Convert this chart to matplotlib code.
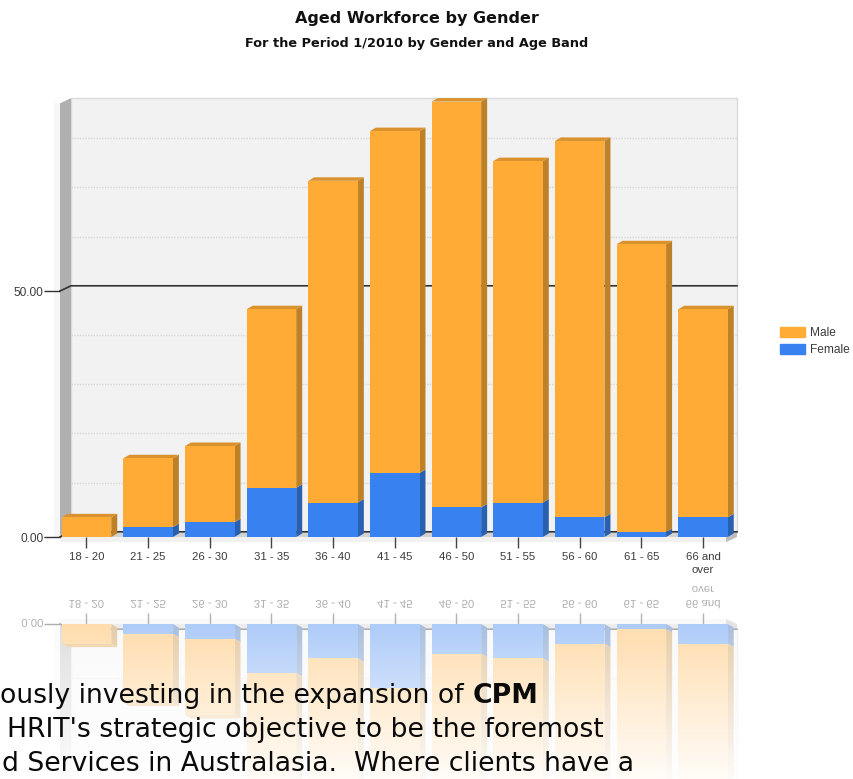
import numpy as np
import matplotlib
matplotlib.use("Agg")
import matplotlib.pyplot as plt
from matplotlib.patches import Polygon, Patch, PathPatch
from matplotlib.textpath import TextPath
from matplotlib.font_manager import FontProperties
from matplotlib.transforms import Affine2D

age_bands = ["18 - 20", "21 - 25", "26 - 30", "31 - 35", "36 - 40", "41 - 45",
             "46 - 50", "51 - 55", "56 - 60", "61 - 65", "66 and\nover"]
female = [0, 2, 3, 10, 7, 13, 6, 7, 4, 1, 4]
male = [4, 14, 15.5, 36.3, 65.4, 69.5, 82.5, 69.4, 76.5, 58.5, 42.3]
y_ticks = [0, 50]
y_tick_labels = ["0.00", "50.00"]
minor_levels = [10, 20, 30, 40, 60, 70, 80]

W, H = 854, 779
ORANGE, ORANGE_SIDE, ORANGE_TOP = "#FFAB36", "#BF8128", "#D9922E"
BLUE, BLUE_SIDE = "#3781F0", "#2A60B0"
TEXT = "#3c3c3c"

# pixel scale of the plot area
X0_PX, X_STEP = 86.5, 61.65
Y0_PX, Y_UNIT = 537.0, 4.92
LEFT_PX, RIGHT_PX, TOP_VAL = 60.0, 737.0, 89.2
WALL_DX, WALL_DY = 11 / X_STEP, 5.2 / Y_UNIT
BAR_DX, BAR_DY = 6 / X_STEP, 3.5 / Y_UNIT
BAR_W = 49.5 / X_STEP
xlim = ((LEFT_PX - X0_PX) / X_STEP, (RIGHT_PX - X0_PX) / X_STEP)

fig = plt.figure(figsize=(W / 100, H / 100), dpi=100, facecolor="white")


def px_rect(left, top, right, bottom):
    return [left / W, 1 - bottom / H, (right - left) / W, (bottom - top) / H]


def draw_scene(ax):
    x_a, x_b = xlim
    top = TOP_VAL
    # walls and floor
    ax.add_patch(Polygon([(x_a + WALL_DX, WALL_DY), (x_b, WALL_DY), (x_b, top), (x_a + WALL_DX, top)],
                         fc="#F2F2F2", ec="#DADADA", lw=1, zorder=1, clip_on=False))
    ax.add_patch(Polygon([(x_a, 0), (x_a + WALL_DX, WALL_DY), (x_a + WALL_DX, top), (x_a, top - WALL_DY)],
                         fc="#B0B0B0", ec="none", zorder=1.5, clip_on=False))
    ax.add_patch(Polygon([(x_a - 0.1, 0), (x_a, 0), (x_a, top - WALL_DY), (x_a - 0.1, top - WALL_DY)],
                         fc="#F6F6F6", ec="none", zorder=1.5, clip_on=False))
    ax.add_patch(Polygon([(x_a, 0), (x_a + WALL_DX, WALL_DY), (x_b, WALL_DY), (x_b - WALL_DX, 0)],
                         fc="#D2D2D2", ec="none", zorder=1.6, clip_on=False))
    ax.add_patch(Polygon([(x_b - WALL_DX, 0), (x_b, WALL_DY), (x_b, 0), (x_b - WALL_DX, -WALL_DY)],
                         fc="#BDBDBD", ec="none", zorder=1.6, clip_on=False))
    ax.add_patch(Polygon([(x_a, 0), (x_b - WALL_DX, 0), (x_b - WALL_DX, -WALL_DY), (x_a, -WALL_DY)],
                         fc="#F1F1F1", ec="none", zorder=1.4, clip_on=False))

    # gridlines on the back wall
    for level in minor_levels:
        ax.plot([x_a + WALL_DX, x_b], [level + WALL_DY] * 2, color="#D6D6D6", lw=1,
                ls=(0, (1, 1)), zorder=2, clip_on=True)
    for level in y_ticks:
        ax.plot([x_a, x_a + WALL_DX, x_b], [level, level + WALL_DY, level + WALL_DY],
                color="#333333", lw=1.2, zorder=2.1, clip_on=False)

    # stacked bars with side and top faces
    x = np.arange(len(age_bands))
    f = np.array(female, float)
    m = np.array(male, float)
    ax.bar(x, f, BAR_W, color=BLUE, zorder=4)
    ax.bar(x, m, BAR_W, bottom=f, color=ORANGE, zorder=4, clip_on=False)
    for i in x:
        r = i + BAR_W / 2
        l = i - BAR_W / 2
        total = f[i] + m[i]
        if f[i] > 0:
            ax.add_patch(Polygon([(r, 0), (r + BAR_DX, BAR_DY), (r + BAR_DX, f[i] + BAR_DY), (r, f[i])],
                                 fc=BLUE_SIDE, ec="none", zorder=3.5))
        ax.add_patch(Polygon([(r, f[i]), (r + BAR_DX, f[i] + BAR_DY), (r + BAR_DX, total + BAR_DY), (r, total)],
                             fc=ORANGE_SIDE, ec="none", zorder=3.5))
        ax.add_patch(Polygon([(l, total), (l + BAR_DX, total + BAR_DY), (r + BAR_DX, total + BAR_DY), (r, total)],
                             fc=ORANGE_TOP, ec="none", zorder=3.5))

    ax.set_xlim(*xlim)
    ax.patch.set_visible(False)
    for s in ax.spines.values():
        s.set_visible(False)


# main chart
ax = fig.add_axes(px_rect(LEFT_PX, Y0_PX - TOP_VAL * Y_UNIT, RIGHT_PX, Y0_PX))
draw_scene(ax)
ax.set_ylim(0, TOP_VAL)
ax.set_xticks(np.arange(len(age_bands)), age_bands, fontsize=8.2, color=TEXT,
              family="Liberation Sans", linespacing=1.35)
ax.set_yticks(y_ticks, y_tick_labels, fontsize=8.6, color=TEXT, family="Liberation Sans")
ax.tick_params(axis="x", length=8, width=1, color="#444444", pad=2.6)
ax.tick_params(axis="y", length=11.5, width=1, color="#333333", pad=0.5)

# mirrored copy under the chart
REFL_PX = 624.0
rax = fig.add_axes(px_rect(LEFT_PX, REFL_PX, RIGHT_PX, H))
draw_scene(rax)
rax.set_ylim((H - REFL_PX) / Y_UNIT, 0)
rax.xaxis.tick_top()
rax.set_xticks(np.arange(len(age_bands)), [""] * len(age_bands))
rax.set_yticks([0], [""])
rax.tick_params(axis="x", length=8, width=1, color="#444444")
rax.tick_params(axis="y", length=11.5, width=1, color="#333333")

prop = FontProperties(family="Liberation Sans")


def mirrored_label(s, cx, baseline_px, ha="center"):
    path = TextPath((0, 0), s, size=11.4, prop=prop)
    ext = path.get_extents()
    dx = -(ext.x0 + ext.x1) / 2 if ha == "center" else -ext.x1
    tr = Affine2D().translate(dx, 0).scale(1, -1).translate(cx, H - baseline_px)
    fig.add_artist(PathPatch(path, transform=tr, fc=TEXT, ec="none", lw=0, zorder=1.5))


for i, band in enumerate(age_bands):
    cx = X0_PX + X_STEP * i
    lines = band.split("\n")
    mirrored_label(lines[0], cx, 600)
    if len(lines) > 1:
        mirrored_label(lines[1], cx, 586)
mirrored_label(y_tick_labels[0], 43, 619, ha="right")

# whitening wash that fades the mirrored copy, plus page text
tax = fig.add_axes([0, 0, 1, 1], zorder=5)
tax.set_xlim(0, W)
tax.set_ylim(H, 0)
tax.axis("off")
alpha = np.concatenate([np.full(49, 0.6), np.linspace(0.6, 0.97, 155)])[:, None]
wash = np.dstack([np.ones_like(alpha)] * 3 + [alpha])
tax.imshow(wash, extent=(0, W, H, 575), aspect="auto", zorder=1, interpolation="bilinear")
tax.set_xlim(0, W)
tax.set_ylim(H, 0)

PAGE_SIZE = 19.2
page_font = dict(family="DejaVu Sans", fontsize=PAGE_SIZE, color="#0a0a0a", va="baseline", zorder=3)
first = tax.text(0.5, 703, "ously investing in the expansion of", **page_font)
renderer = fig.canvas.get_renderer()
first_end = tax.transData.inverted().transform(first.get_window_extent(renderer).get_points())[1, 0]
tax.text(first_end + PAGE_SIZE * 0.45, 703, "CPM", fontweight="bold", **page_font)
tax.text(7, 737, "HRIT's strategic objective to be the foremost", **page_font)
tax.text(2, 771, "d Services in Australasia.  Where clients have a", **page_font)

# titles
tax.text(416.5, 18, "Aged Workforce by Gender", ha="center", va="center", family="DejaVu Sans",
         fontsize=11.5, fontweight="bold", color="#111111")
tax.text(416.5, 43, "For the Period 1/2010 by Gender and Age Band", ha="center", va="center",
         family="DejaVu Sans", fontsize=9.3, fontweight="bold", color="#111111")

# legend
ax.legend(handles=[Patch(color=ORANGE, label="Male"), Patch(color=BLUE, label="Female")],
          loc="upper left", bbox_to_anchor=(780 / W, 1 - 327 / H), bbox_transform=fig.transFigure,
          frameon=False, prop=dict(family="Liberation Sans", size=8.6),
          labelcolor=TEXT, handlelength=2.1, handleheight=0.9, handletextpad=0.45,
          labelspacing=0.42, borderpad=0, borderaxespad=0)

fig.savefig("out.png", dpi=100)
